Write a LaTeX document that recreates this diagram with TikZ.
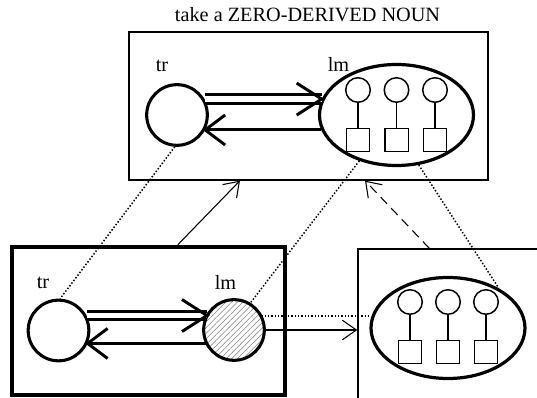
\documentclass[tikz,border=0pt]{standalone}
\usepackage{fontspec}
\setmainfont{Liberation Serif}
\usetikzlibrary{arrows.meta,shapes.geometric,patterns.meta,calc}

\begin{document}
\begin{tikzpicture}[x=0.75pt,y=-0.75pt,
  lbl/.style={font=\fontsize{15.2}{17}\selectfont, anchor=base, inner sep=0},
  bigcirc/.style={circle, draw, line width=2.3pt, minimum size=45.5pt, inner sep=0},
  group/.style={ellipse, draw, line width=2.4pt, minimum width=115.5pt, minimum height=75.75pt, inner sep=0},
  elem/.style={circle, draw, line width=1.1pt, minimum size=18.4pt, inner sep=0},
  tag/.style={rectangle, draw, line width=1.1pt, minimum width=17.6pt, minimum height=16.9pt, inner sep=0},
  frame/.style={rectangle, draw, line width=1pt, inner sep=0},
  stem/.style={line width=1.1pt},
  rel/.style={line width=2.2pt},
  dbl/.style={line width=2.2pt, double, double distance=4pt},
  chev/.style={line width=2.2pt, line join=miter, miter limit=10},
  link/.style={line width=1.1pt, dash pattern=on 1.1pt off 1.4pt},
  thinarrow/.style={line width=0.8pt, -{Straight Barb[length=10.5pt,width=14.6pt]}},
]
\clip (0,0) rectangle (537,398);

% title
\node[lbl] (title) at (307.5,21.5) {take a ZERO-DERIVED NOUN};

% frames
\node[frame, minimum width=269.25pt, minimum height=111pt] (tbox) at (308.5,106) {};
\node[frame, line width=3.4pt, minimum width=204.75pt, minimum height=111pt] (lbox) at (148.5,321) {};
\node[frame, minimum width=181.5pt, minimum height=150.75pt] (rbox) at (479,349.5) {};

% upper frame: trajector and landmark group
\node[bigcirc] (tr1) at (177,115) {};
\node[group] (lm1) at (396.5,115) {};
\node[lbl] (trl1) at (162,72) {tr};
\node[lbl] (lml1) at (338.5,71.5) {lm};
\foreach \i/\x in {1/358,2/396.5,3/435}{
  \node[elem] (ec\i) at (\x,90) {};
  \node[tag] (es\i) at (\x,140) {};
  \draw[stem] (ec\i.south) -- (es\i.north);
}

% lower left frame
\node[bigcirc] (tr2) at (58.5,330.5) {};
\node[bigcirc, pattern={Lines[angle=45,distance=3pt,line width=0.4pt]}, pattern color=gray] (lm2) at (234,330) {};
\node[lbl] (trl2) at (43,289) {tr};
\node[lbl] (lml2) at (225.5,290) {lm};

% lower right frame: landmark group
\node[group] (lm3) at (448,328) {};
\foreach \i/\x in {1/410,2/448,3/486}{
  \node[elem] (fc\i) at (\x,302) {};
  \node[tag] (fs\i) at (\x,352) {};
  \draw[stem] (fc\i.south) -- (fs\i.north);
}

% relation arrows, upper frame
\coordinate (ta) at (tr1.30 -| lm1.168);
\draw[dbl] (tr1.30) -- (ta);
\draw[chev] ($(ta)+(-25,-16)$) -- (ta) -- ($(ta)+(-25,16)$);
\coordinate (tb) at (tr1.-28 -| lm1.191);
\draw[rel] (tb) -- (tr1.-28);
\draw[chev] ($(tr1.-28)+(20,-15)$) -- (tr1.-28) -- ($(tr1.-28)+(20,15)$);

% relation arrows, lower left frame
\coordinate (ba) at (tr2.28 -| lm2.152);
\draw[dbl] (tr2.28) -- (ba);
\draw[chev] ($(ba)+(-25,-16)$) -- (ba) -- ($(ba)+(-25,16)$);
\coordinate (bb) at (tr2.-24 -| lm2.204);
\draw[rel] (bb) -- (tr2.-24);
\draw[chev] ($(tr2.-24)+(20,-15)$) -- (tr2.-24) -- ($(tr2.-24)+(20,15)$);

% correspondence lines
\draw[link] (tr1.-94) -- (tr2.87);
\draw[link] (lm1.-129.5) -- (lm2.59);
\draw[link] (lm1.-66) -- (lm3.38);
\draw[link] (lm2.27) -- (lm2.27 -| lm3.west);

% composition arrows
\draw[thinarrow] ([xshift=22pt]lbox.north) -- ([xshift=-51.4pt]tbox.south);
\draw[thinarrow, dash pattern=on 7pt off 4.5pt] ([xshift=54pt]rbox.north west) -- ([xshift=42.4pt]tbox.south);
\draw[thinarrow] (lm2.east) -- (lm2.east -| rbox.west);
\end{tikzpicture}
\end{document}
